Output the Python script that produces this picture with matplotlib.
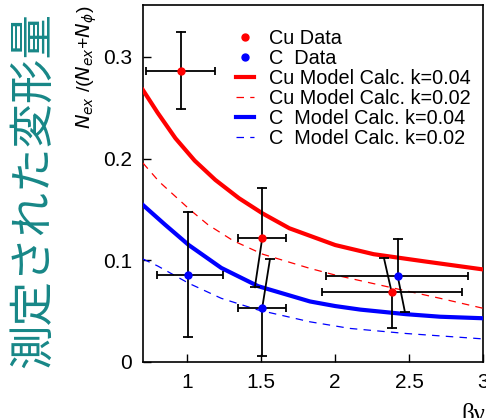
import matplotlib

matplotlib.use("Agg")
import matplotlib.pyplot as plt
import numpy as np

plt.rcParams["font.family"] = ["Liberation Sans", "DejaVu Sans"]

# Measured points: centre, horizontal error range, and the two ends of the
# vertical error arms (some arms are drawn slanted in the original figure).
cu_x = [0.957, 1.507, 2.382]
cu_y = [0.2864, 0.1219, 0.0685]
cu_xlo = [0.723, 1.344, 1.908]
cu_xhi = [1.189, 1.667, 2.855]
cu_up_x = [0.957, 1.507, 2.330]
cu_up_y = [0.3248, 0.1714, 0.1020]
cu_dn_x = [0.957, 1.457, 2.382]
cu_dn_y = [0.2485, 0.0735, 0.0337]

c_x = [1.005, 1.507, 2.422]
c_y = [0.0855, 0.0534, 0.0849]
c_xlo = [0.795, 1.344, 1.937]
c_xhi = [1.239, 1.667, 2.900]
c_up_x = [1.005, 1.559, 2.422]
c_up_y = [0.1478, 0.1010, 0.1209]
c_dn_x = [1.005, 1.507, 2.471]
c_dn_y = [0.0243, 0.0059, 0.0495]

# Model curves
cu04_x = [0.70, 0.80, 0.92, 1.05, 1.19, 1.35, 1.51, 1.69, 2.00, 2.26, 2.60, 3.00]
cu04_y = [0.2675, 0.245, 0.220, 0.198, 0.179, 0.161, 0.146, 0.1315, 0.115, 0.106, 0.099, 0.091]
cu02_x = [0.70, 0.81, 1.02, 1.14, 1.31, 1.51, 1.83, 2.00, 2.39, 2.71, 3.00]
cu02_y = [0.1957, 0.1773, 0.1495, 0.135, 0.1193, 0.106, 0.092, 0.0855, 0.0728, 0.0626, 0.0528]
c04_x = [0.70, 0.85, 1.01, 1.23, 1.48, 1.83, 2.00, 2.17, 2.48, 2.71, 3.00]
c04_y = [0.1544, 0.135, 0.115, 0.0925, 0.0745, 0.0595, 0.055, 0.0515, 0.047, 0.0445, 0.043]
c02_x = [0.70, 0.80, 1.01, 1.23, 1.48, 1.83, 2.10, 2.48, 3.00]
c02_y = [0.1013, 0.0944, 0.0774, 0.0626, 0.0511, 0.0395, 0.033, 0.0280, 0.0227]

y_ticks = [0, 0.1, 0.2, 0.3]
y_tick_labels = ["0", "0.1", "0.2", "0.3"]
x_ticks = [1, 1.5, 2, 2.5, 3]
x_tick_labels = ["1", "1.5", "2", "2.5", "3"]

TEAL = "#178787"


def draw_points(ax, x, y, xlo, xhi, upx, upy, dnx, dny, color):
    x = np.array(x); y = np.array(y)
    ax.errorbar(x, y, xerr=[x - np.array(xlo), np.array(xhi) - x], fmt="none",
                ecolor="black", elinewidth=1.3, capsize=3.2, capthick=1.3, zorder=4)
    for ex, ey in ((upx, upy), (dnx, dny)):
        for x0, y0, x1, y1 in zip(x, y, ex, ey):
            ax.plot([x0, x1], [y0, y1], color="black", lw=1.3, zorder=4)
            ax.plot([x1], [y1], marker="_", color="black", ms=7, mew=1.3, zorder=4)
    return ax.plot(x, y, "o", color=color, ms=5, zorder=5)[0]


fig = plt.figure(figsize=(4.86, 4.18), dpi=100)
ax = fig.add_axes([0.294, 0.134, 0.700, 0.854])

h_cu = draw_points(ax, cu_x, cu_y, cu_xlo, cu_xhi, cu_up_x, cu_up_y, cu_dn_x, cu_dn_y, "red")
h_c = draw_points(ax, c_x, c_y, c_xlo, c_xhi, c_up_x, c_up_y, c_dn_x, c_dn_y, "blue")

kw = dict(solid_joinstyle="round", dash_joinstyle="round", zorder=3)
l1, = ax.plot(cu04_x, cu04_y, color="red", lw=3.0, **kw)
l2, = ax.plot(cu02_x, cu02_y, color="red", lw=0.9, ls=(0, (6, 5)), **kw)
l3, = ax.plot(c04_x, c04_y, color="blue", lw=3.0, **kw)
l4, = ax.plot(c02_x, c02_y, color="blue", lw=0.9, ls=(0, (6, 5)), **kw)

ax.set_xlim(0.7, 3.0)
ax.set_ylim(0, 0.351)
ax.set_xticks(x_ticks, x_tick_labels)
ax.set_yticks(y_ticks, y_tick_labels)
ax.tick_params(direction="in", length=6, width=1, labelsize=15, pad=8)
for s in ax.spines.values():
    s.set_linewidth(1.2)

ax.legend([h_cu, h_c, l1, l2, l3, l4],
          ["Cu Data", "C  Data", "Cu Model Calc. k=0.04", "Cu Model Calc. k=0.02",
           "C  Model Calc. k=0.04", "C  Model Calc. k=0.02"],
          loc="upper left", bbox_to_anchor=(0.275, 0.933), frameon=False,
          fontsize=14.3, handlelength=0.9, handletextpad=0.75, labelspacing=0.05,
          borderpad=0, borderaxespad=0)

fig.text(0.178, 0.838, r"$N_{ex}$ /($N_{ex}$+$N_{\phi}$)", rotation=90,
         ha="center", va="center", fontsize=14)
fig.text(0.973, 0.008, "βγ", family=["Liberation Serif", "DejaVu Serif"],
         ha="center", va="center", fontsize=18)
fig.text(0.068, 0.545, "測定された変形量", rotation=90, color=TEAL,
         family=["Noto Sans CJK JP", "DejaVu Sans"], ha="center", va="center",
         fontsize=32)

fig.savefig("out.png", dpi=100)
